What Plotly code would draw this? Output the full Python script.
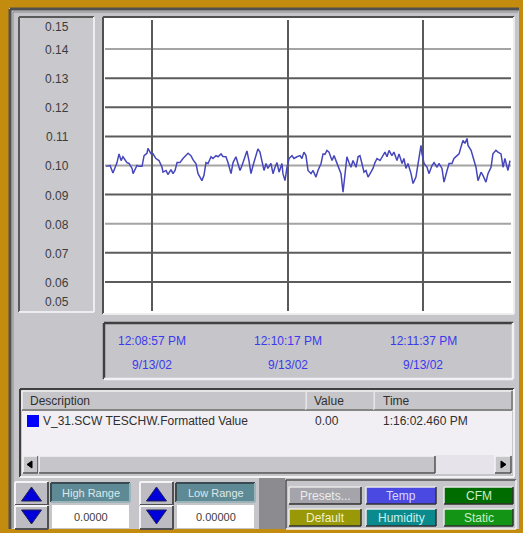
import plotly.graph_objects as go

W, H = 523, 533

# ---------------- data ----------------
# seconds after 12:08:29 PM on 9/13/02
t_sec = [0.6, 3.0, 4.7, 7.1, 8.3, 9.5, 10.6, 11.8, 13.0, 14.2, 16.0, 16.6, 18.9, 20.1, 21.9,
         23.1, 24.8, 25.4, 27.2, 28.4, 30.1, 31.9, 33.7, 34.3, 36.1, 37.2, 39.0, 40.2, 41.4,
         42.6, 44.3, 46.1, 47.9, 49.1, 50.8, 52.0, 53.8, 55.0, 57.3, 58.5, 59.7, 60.9, 62.7,
         63.8, 65.6, 66.8, 68.6, 69.7, 71.5, 72.7, 74.5, 75.7, 77.4, 78.6, 79.8, 81.0, 82.8,
         83.9, 85.1, 86.3, 87.5, 89.3, 90.4, 91.6, 92.8, 94.0, 95.2, 96.3, 98.1, 99.3, 100.5,
         101.7, 102.9, 104.6, 105.2, 106.4, 107.6, 108.8, 110.5, 111.7, 113.5, 115.3, 116.4,
         117.6, 118.8, 120.0, 121.8, 123.0, 124.7, 125.9, 127.7, 128.9, 130.0, 131.2, 132.4,
         134.2, 135.4, 136.5, 137.7, 139.5, 140.7, 141.9, 143.0, 144.2, 145.4, 146.6, 148.4,
         149.6, 150.7, 151.9, 153.1, 154.3, 155.5, 157.2, 158.4, 159.6, 160.8, 162.6, 164.3,
         165.5, 166.7, 167.9, 169.6, 170.8, 172.6, 173.8, 175.6, 176.7, 177.9, 179.1, 180.9,
         182.1, 183.8, 185.0, 186.8, 187.4, 188.6, 190.4, 191.5, 193.3, 194.5, 196.3, 197.4,
         199.2, 200.4, 202.2, 203.4, 205.1, 206.3, 208.1, 209.3, 210.4, 211.6, 212.8, 214.0,
         214.6, 216.4, 217.5, 219.3, 220.5, 222.3, 223.4, 225.2, 226.4, 228.2, 229.3, 231.1,
         232.3, 234.1, 235.3, 236.4, 238.2, 239.4]
values = [0.0997, 0.1000, 0.0974, 0.1010, 0.1040, 0.1017, 0.1030, 0.1020, 0.1010, 0.1007,
          0.0990, 0.0972, 0.1000, 0.0997, 0.0997, 0.1034, 0.1042, 0.1059, 0.1040, 0.1040,
          0.1024, 0.1017, 0.0994, 0.0977, 0.0983, 0.0969, 0.0986, 0.0972, 0.0983, 0.1010,
          0.1010, 0.1024, 0.1034, 0.1042, 0.1034, 0.1020, 0.1006, 0.0972, 0.0948, 0.0966,
          0.1010, 0.1007, 0.1030, 0.1024, 0.1034, 0.1030, 0.1040, 0.1031, 0.1030, 0.1010,
          0.0972, 0.1010, 0.1030, 0.1010, 0.0983, 0.1000, 0.1034, 0.1050, 0.1017, 0.0972,
          0.1000, 0.1038, 0.1057, 0.1046, 0.1017, 0.0983, 0.1007, 0.0990, 0.1007, 0.0972,
          0.0994, 0.1010, 0.0977, 0.1007, 0.0972, 0.0948, 0.0994, 0.1024, 0.1034, 0.1024,
          0.1030, 0.1034, 0.1024, 0.1046, 0.1034, 0.0983, 0.0972, 0.0983, 0.0960, 0.0983,
          0.1007, 0.1040, 0.1038, 0.1052, 0.1046, 0.1017, 0.1034, 0.1017, 0.0994, 0.0972,
          0.0908, 0.0983, 0.1030, 0.1010, 0.0994, 0.1017, 0.0994, 0.1030, 0.1034, 0.1007,
          0.0977, 0.0983, 0.0960, 0.0977, 0.0990, 0.1010, 0.1024, 0.1017, 0.1034, 0.1046,
          0.1030, 0.1052, 0.1034, 0.1046, 0.1017, 0.1040, 0.1007, 0.1024, 0.0990, 0.1007,
          0.0972, 0.0938, 0.0960, 0.1007, 0.1069, 0.1040, 0.1007, 0.0994, 0.0972, 0.1000,
          0.1010, 0.0994, 0.1007, 0.0990, 0.0943, 0.0983, 0.1007, 0.1007, 0.1024, 0.1034,
          0.1040, 0.1063, 0.1086, 0.1076, 0.1093, 0.1069, 0.1052, 0.1030, 0.0994, 0.0948,
          0.0977, 0.0966, 0.0943, 0.0972, 0.0994, 0.1040, 0.1052, 0.1046, 0.1040, 0.0994,
          0.1024, 0.0983, 0.1017]

x_span = [0, 240]
y_span = [0.05, 0.15]
tick_secs = [28, 108, 188]
tick_times = ["12:08:57 PM", "12:10:17 PM", "12:11:37 PM"]
tick_dates = ["9/13/02", "9/13/02", "9/13/02"]
y_ticks = [0.15, 0.14, 0.13, 0.12, 0.11, 0.10, 0.09, 0.08, 0.07, 0.06, 0.05]
y_tick_labels = ["0.15", "0.14", "0.13", "0.12", "0.11", "0.10", "0.09", "0.08", "0.07", "0.06", "0.05"]
grid_levels = [0.14, 0.13, 0.12, 0.11, 0.10, 0.09, 0.08, 0.07, 0.06]
light_grid_levels = [0.14, 0.10, 0.08]

table_headers = ["Description", "Value", "Time"]
legend_desc = "V_31.SCW TESCHW.Formatted Value"
legend_value = "0.00"
legend_time = "1:16:02.460 PM"
range_labels = ["High Range", "Low Range"]
range_values = ["0.0000", "0.00000"]
button_labels = ["Presets...", "Temp", "CFM", "Default", "Humidity", "Static"]

# ---------------- helpers ----------------
FONT = "Arial, Liberation Sans, sans-serif"
shapes = []
annotations = []


def X(p):
    return p / W


def Y(p):
    return 1 - p / H


def rect(x0, y0, x1, y1, fill, line_color=None, lw=0):
    shapes.append(dict(type="rect", xref="paper", yref="paper", x0=X(x0), x1=X(x1),
                       y0=Y(y1), y1=Y(y0), fillcolor=fill,
                       line=dict(color=line_color or fill, width=lw), layer="below"))


def seg(x0, y0, x1, y1, color, lw=1):
    shapes.append(dict(type="line", xref="paper", yref="paper", x0=X(x0), x1=X(x1),
                       y0=Y(y0), y1=Y(y1), line=dict(color=color, width=lw), layer="below"))


def bevel(x0, y0, x1, y1, fill, raised=True, light="#F4F4F6", dark="#404040", lw=2):
    rect(x0, y0, x1, y1, fill)
    tl, br = (light, dark) if raised else (dark, light)
    seg(x0, y0, x1, y0, tl, lw)
    seg(x0, y0, x0, y1, tl, lw)
    seg(x0, y1, x1, y1, br, lw)
    seg(x1, y0, x1, y1, br, lw)


def tri(pts, fill, line="#202050"):
    path = "M " + " L ".join(f"{X(a):.5f},{Y(b):.5f}" for a, b in pts) + " Z"
    shapes.append(dict(type="path", xref="paper", yref="paper", path=path,
                       fillcolor=fill, line=dict(color=line, width=1), layer="below"))


def text(x, y, s, size=12, color="#333333", xanchor="left"):
    annotations.append(dict(x=X(x), y=Y(y), xref="paper", yref="paper", text=s,
                            showarrow=False, xanchor=xanchor, yanchor="middle",
                            font=dict(family=FONT, size=size, color=color)))


PANEL = "#C6C5CA"

# ---------------- frame ----------------
rect(9, 8, 519, 529, PANEL)
seg(10, 9, 519, 9, "#505050", 3)
seg(10, 9, 10, 529, "#505050", 3)
seg(13, 12, 518, 12, "#8A8A8E", 1)
seg(13, 12, 13, 528, "#8A8A8E", 1)

# y-label panel (sunken)
bevel(19, 17, 94, 312, "#C9C8CD", raised=False, dark="#5A5A5A", light="#EDEDF0")
# plot frame and white area
bevel(103, 17, 514, 314, "#FFFFFF", raised=False, dark="#505050", light="#EDEDF0")
# time panel
bevel(104, 323, 513, 379, PANEL, raised=False, dark="#404040", light="#F2F2F4", lw=2.5)

# table
bevel(20, 389, 514, 477, PANEL, raised=False, dark="#404040", light="#F2F2F4")
rect(22, 411, 512, 455, "#F1EFF4")
bevel(22, 391, 306, 410, PANEL, light="#F0F0F2", dark="#707070", lw=1.5)
bevel(306, 391, 374, 410, PANEL, light="#F0F0F2", dark="#707070", lw=1.5)
bevel(374, 391, 512, 410, PANEL, light="#F0F0F2", dark="#707070", lw=1.5)
rect(27, 415, 39, 427, "#0000FF")
# scrollbar
rect(22, 455, 512, 474, "#E6E4EA")
bevel(23, 456, 38, 473, PANEL, light="#F4F4F6", dark="#505050", lw=1.5)
bevel(39, 456, 435, 473, PANEL, light="#F4F4F6", dark="#505050", lw=1.5)
bevel(495, 456, 511, 473, PANEL, light="#F4F4F6", dark="#505050", lw=1.5)
tri([(27, 464.5), (32, 461), (32, 468)], "#000000", line="#000000")
tri([(506, 464.5), (501, 461), (501, 468)], "#000000", line="#000000")

# bottom controls
for bx, lx in [(15, 51), (140, 176)]:
    bevel(bx, 482, bx + 33, 505, "#BDBCC2", light="#F4F4F6", dark="#505050")
    bevel(bx, 506, bx + 33, 529, "#BDBCC2", light="#F4F4F6", dark="#505050")
    cx = bx + 16.5
    tri([(cx, 487), (cx + 10, 501), (cx - 10, 501)], "#0000D8")
    tri([(cx - 10, 510), (cx + 10, 510), (cx, 524)], "#0000D8")
    bevel(lx, 483, lx + 79, 502, "#5D8A94", raised=False, dark="#3A4A50", light="#9AB4BA")
    rect(lx + 1, 505, lx + 78, 528, "#FFFFFF")
rect(259, 478, 285, 529, "#8C8C90")
bevel(286, 480, 516, 529, PANEL, raised=False, dark="#505050", light="#F0F0F2", lw=1.5)

btn_boxes = [(289, 487, 361, 504), (366, 487, 436, 504), (444, 487, 513, 504),
             (289, 509, 361, 526), (366, 509, 436, 526), (444, 509, 513, 526)]
btn_fills = ["#A4A4AA", "#4A4AE2", "#006C00", "#999908", "#0A8A8C", "#149414"]
btn_text = ["#EDEDED", "#D8D8FF", "#C8F0C8", "#F0F0C8", "#C8F0F0", "#C8F0C8"]
for (x0, y0, x1, y1), f, tc, lab in zip(btn_boxes, btn_fills, btn_text, button_labels):
    bevel(x0, y0, x1, y1, f, light="#E8E8EA", dark="#303030", lw=1.5)
    text((x0 + x1) / 2, (y0 + y1) / 2 + 0.5, lab, size=12, color=tc, xanchor="center")

# ---------------- texts ----------------
text(28, 401, table_headers[0], 12, "#303030")
text(312, 401, table_headers[1], 12, "#303030")
text(381, 401, table_headers[2], 12, "#303030")
text(41, 421, legend_desc, 12, "#303030")
text(313, 421, legend_value, 12, "#303030")
text(381, 421, legend_time, 12, "#303030")
for lx, lab, val in zip([51, 176], range_labels, range_values):
    text(lx + 39.5, 493, lab, 11, "#DDE8EC", "center")
    text(lx + 39.5, 517, val, 11, "#404040", "center")

# time labels tied to the x axis
for s, tt, dd in zip(tick_secs, tick_times, tick_dates):
    annotations.append(dict(x=s, y=Y(341), xref="x", yref="paper", text=tt, showarrow=False,
                            xanchor="center", yanchor="middle",
                            font=dict(family=FONT, size=12, color="#3A3AEA")))
    annotations.append(dict(x=s, y=Y(365), xref="x", yref="paper", text=dd, showarrow=False,
                            xanchor="center", yanchor="middle",
                            font=dict(family=FONT, size=12, color="#3A3AEA")))

# y labels tied to the y axis
for i, (v, lab) in enumerate(zip(y_ticks, y_tick_labels)):
    shift = -7 if i == 0 else (9 if i == len(y_ticks) - 1 else -1)
    annotations.append(dict(x=X(57), y=v, xref="paper", yref="y", text=lab, showarrow=False,
                            xanchor="center", yanchor="middle", yshift=shift,
                            font=dict(family=FONT, size=12, color="#3C3C3C")))

# horizontal grid lines
for g in grid_levels:
    shapes.append(dict(type="line", xref="x", yref="y", x0=x_span[0], x1=x_span[1], y0=g, y1=g,
                       line=dict(color="#A4A4A4" if g in light_grid_levels else "#5C5C5C", width=2),
                       layer="below"))

fig = go.Figure()
fig.add_trace(go.Scatter(x=t_sec, y=values, mode="lines",
                         line=dict(color="#4646BC", width=1.5), hoverinfo="skip"))

fig.update_layout(
    width=W, height=H, margin=dict(l=0, r=0, t=0, b=0),
    paper_bgcolor="#C48C0E", plot_bgcolor="rgba(0,0,0,0)",
    showlegend=False, shapes=shapes, annotations=annotations,
    xaxis=dict(domain=[X(105), X(511)], range=x_span, tickvals=tick_secs, showticklabels=False,
               ticks="", showgrid=True, gridcolor="#5A5A5A", gridwidth=2, zeroline=False,
               showline=False, fixedrange=True),
    yaxis=dict(domain=[Y(311), Y(20)], range=y_span, showticklabels=False, ticks="",
               showgrid=False, zeroline=False, showline=False, fixedrange=True),
)

fig.write_html("out.html", config={"displayModeBar": False},
               post_script="document.body.style.margin='0';document.body.style.overflow='hidden';")
